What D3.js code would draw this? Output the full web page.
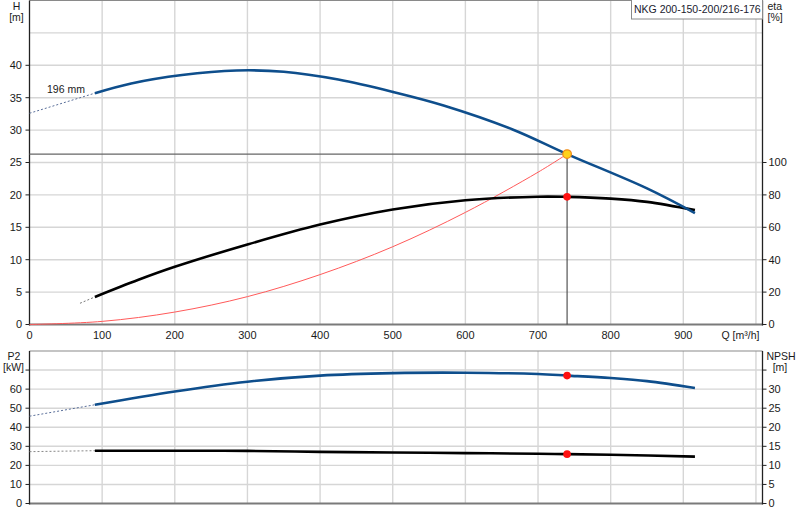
<!DOCTYPE html>
<html><head><meta charset="utf-8">
<script src="https://cdn.jsdelivr.net/npm/d3@7"></script>
<style>
html,body{margin:0;padding:0;background:#fff;}
svg{display:block;font-family:"Liberation Sans",Arial,sans-serif;}
</style></head>
<body>
<svg id="c" width="800" height="520"></svg>
<script>
// ---- data ----
const title = "NKG 200-150-200/216-176";
const impellerLabel = "196 mm";
const qTicks = [0,100,200,300,400,500,600,700,800,900];
const qGrid = [100,200,300,400,500,600,700,800,900,1000];
const hTicks = [0,5,10,15,20,25,30,35,40];
const hGrid = [5,10,15,20,25,30,35,40,45];
const etaTicks = [0,20,40,60,80,100];
const p2Ticks = [0,10,20,30,40,50,60];
const p2Grid = [10,20,30,40,50,60,70];
const p2TickMarks = [0,10,20,30,40,50,60,70];
const npshTicks = [0,5,10,15,20,25,30];
const npshTickMarks = [0,5,10,15,20,25,30,35];

const qH = [90,140,210,285,350,425,500,570,665,740,850,916];
const hVals = [35.7,37.2,38.5,39.2,39.0,37.8,35.9,33.8,30.1,26.3,21.0,17.2];
const qHExt = [0,90];
const hExt = [32.6,35.7];

const qEta = [90,150,200,300,400,500,600,700,740,800,850,916];
const etaVals = [17.0,27.6,35.6,49.4,61.7,71.0,76.7,78.9,78.8,77.7,75.7,70.6];
const qEtaExt = [69.5,90];
const etaExt = [13.1,17.0];

const qSys = [0,100,200,300,400,500,600,700,740];
const hSys = [0,0.48,1.92,4.3,7.7,12.0,17.3,23.5,26.3];

const qP2 = [90,200,300,400,500,600,700,740,800,850,916];
const p2Vals = [51.8,58.8,63.9,67.1,68.4,68.6,67.9,67.1,65.8,64.2,60.6];
const qP2Ext = [0,90];
const p2Ext = [45.8,51.8];

const qNpsh = [90,200,300,400,500,600,700,740,800,916];
const npshVals = [13.85,13.85,13.8,13.55,13.38,13.22,13.05,12.95,12.78,12.3];
const qNpshExt = [0,90];
const npshExt = [13.6,13.85];

const dutyQ = 740, dutyH = 26.3, dutyEta = 78.8, dutyP2 = 67.1, dutyNpsh = 12.95;

// ---- scales ----
const svg = d3.select("#c");
const x = d3.scaleLinear().domain([0,1009]).range([29.5,762.5]);
const yH = d3.scaleLinear().domain([0,50]).range([324.5,0.5]);
const yEta = d3.scaleLinear().domain([0,200]).range([324.5,0.5]);
const yP = d3.scaleLinear().domain([0,80]).range([503.5,351]);
const yN = d3.scaleLinear().domain([0,40]).range([503.5,351]);
const X0 = x(0), X1 = x(1009);
const gridC = "#d6d6d6", txt = "#1a1a1a";

function grid(g, ys, yScale, top, bottom){
  g.selectAll(null).data(ys).join("line")
    .attr("x1",X0).attr("x2",X1).attr("y1",d=>yScale(d)).attr("y2",d=>yScale(d))
    .attr("stroke",gridC).attr("stroke-width",1.4);
  g.selectAll(null).data(qGrid).join("line")
    .attr("x1",d=>x(d)).attr("x2",d=>x(d)).attr("y1",top).attr("y2",bottom)
    .attr("stroke",gridC).attr("stroke-width",1.4);
}
const gTop = svg.append("g");
grid(gTop, hGrid, yH, yH(50), yH(0));
const gBot = svg.append("g");
grid(gBot, p2Grid, yP, yP(80), yP(0));

// frames
function frame(yTop, yBottom){
  svg.append("line").attr("x1",X0).attr("x2",X1).attr("y1",yTop).attr("y2",yTop).attr("stroke","#8a8a8a").attr("stroke-width",1.2);
  svg.append("line").attr("x1",X0).attr("x2",X1).attr("y1",yBottom).attr("y2",yBottom).attr("stroke","#7a7a7a").attr("stroke-width",2);
  svg.append("line").attr("x1",X0).attr("x2",X0).attr("y1",yTop).attr("y2",yBottom+1).attr("stroke","#222").attr("stroke-width",1.3);
  svg.append("line").attr("x1",X1).attr("x2",X1).attr("y1",yTop).attr("y2",yBottom+1).attr("stroke","#222").attr("stroke-width",1.3);
}
frame(yH(50), yH(0));
frame(yP(80), yP(0));

// axes ticks & labels
function leftAxis(ticks, marks, yScale){
  svg.selectAll(null).data(marks).join("line")
    .attr("x1",X0-4).attr("x2",X0).attr("y1",d=>yScale(d)).attr("y2",d=>yScale(d)).attr("stroke","#222");
  svg.selectAll(null).data(ticks).join("text")
    .attr("x",X0-7.5).attr("y",d=>yScale(d)).attr("dy","0.36em").attr("text-anchor","end")
    .attr("font-size",11).attr("fill",txt).text(d=>d);
}
function rightAxis(ticks, marks, yScale){
  svg.selectAll(null).data(marks).join("line")
    .attr("x1",X1).attr("x2",X1+4).attr("y1",d=>yScale(d)).attr("y2",d=>yScale(d)).attr("stroke","#222");
  svg.selectAll(null).data(ticks).join("text")
    .attr("x",X1+6).attr("y",d=>yScale(d)).attr("dy","0.36em").attr("text-anchor","start")
    .attr("font-size",11).attr("fill",txt).text(d=>d);
}
leftAxis(hTicks, hTicks, yH);
rightAxis(etaTicks, etaTicks, yEta);
leftAxis(p2Ticks, p2TickMarks, yP);
rightAxis(npshTicks, npshTickMarks, yN);

svg.selectAll(null).data(qTicks).join("text")
  .attr("x",d=>x(d)).attr("y",338.5).attr("text-anchor","middle")
  .attr("font-size",11).attr("fill",txt).text(d=>d);
svg.append("text").attr("x",721.5).attr("y",338.5).attr("font-size",10.5).attr("fill",txt).text("Q [m³/h]");

// axis titles
function lbl(t, xx, yy, anchor){
  svg.append("text").attr("x",xx).attr("y",yy).attr("text-anchor",anchor||"middle").attr("font-size",10.5).attr("fill",txt).text(t);
}
lbl("H",16.5,9.5); lbl("[m]",16.5,20.5);
lbl("eta",767.5,9.5,"start"); lbl("[%]",767.5,20.5,"start");
lbl("P2",14,359.5); lbl("[kW]",13.5,371);
lbl("NPSH",781,359.5); lbl("[m]",780,371);

// title box
svg.append("rect").attr("x",631.5).attr("y",-1).attr("width",131).attr("height",20)
  .attr("fill","#fff").attr("stroke","#8a8a8a").attr("stroke-width",1);
svg.append("text").attr("x",634).attr("y",13).attr("font-size",10.5).attr("fill","#1a1a2e").text(title);

// lines
const ln = (ys) => d3.line().x(d=>x(d[0])).y(d=>ys(d[1])).curve(d3.curveCatmullRom.alpha(0.5));
const zip = (a,b) => a.map((v,i)=>[v,b[i]]);
const blue = "#0e4e8c";

// duty guide lines
svg.append("line").attr("x1",X0).attr("x2",x(dutyQ)).attr("y1",yH(dutyH)).attr("y2",yH(dutyH)).attr("stroke","#666").attr("stroke-width",1.1);
svg.append("line").attr("x1",x(dutyQ)).attr("x2",x(dutyQ)).attr("y1",yH(dutyH)).attr("y2",yH(0)).attr("stroke","#444").attr("stroke-width",1.1);

// system curve
svg.append("path").attr("d",ln(yH)(zip(qSys,hSys))).attr("fill","none").attr("stroke","#ff5a5a").attr("stroke-width",1);

// dashed extensions
svg.append("path").attr("d",ln(yH)(zip(qHExt,hExt))).attr("fill","none").attr("stroke","#5a6f9a").attr("stroke-width",1).attr("stroke-dasharray","2,2");
svg.append("path").attr("d",ln(yEta)(zip(qEtaExt,etaExt))).attr("fill","none").attr("stroke","#777").attr("stroke-width",1).attr("stroke-dasharray","2,2");
svg.append("path").attr("d",ln(yP)(zip(qP2Ext,p2Ext))).attr("fill","none").attr("stroke","#5a6f9a").attr("stroke-width",1).attr("stroke-dasharray","2,2");
svg.append("path").attr("d",ln(yN)(zip(qNpshExt,npshExt))).attr("fill","none").attr("stroke","#888").attr("stroke-width",1).attr("stroke-dasharray","2,2");

// main curves
svg.append("path").attr("d",ln(yEta)(zip(qEta,etaVals))).attr("fill","none").attr("stroke","#000").attr("stroke-width",2.6);
svg.append("path").attr("d",ln(yH)(zip(qH,hVals))).attr("fill","none").attr("stroke",blue).attr("stroke-width",2.6);
svg.append("path").attr("d",ln(yP)(zip(qP2,p2Vals))).attr("fill","none").attr("stroke",blue).attr("stroke-width",2.6);
svg.append("path").attr("d",ln(yN)(zip(qNpsh,npshVals))).attr("fill","none").attr("stroke","#000").attr("stroke-width",2.6);

lbl(impellerLabel,66,92.5);

// markers
svg.append("circle").attr("cx",x(dutyQ)).attr("cy",yH(dutyH)).attr("r",4.3).attr("fill","#ffd21a").attr("stroke","#f08a1a").attr("stroke-width",1.2);
[[yEta,dutyEta],[yP,dutyP2],[yN,dutyNpsh]].forEach(([s,v])=>{
  svg.append("circle").attr("cx",x(dutyQ)).attr("cy",s(v)).attr("r",3.8).attr("fill","#ff1010");
});
</script>
</body></html>
